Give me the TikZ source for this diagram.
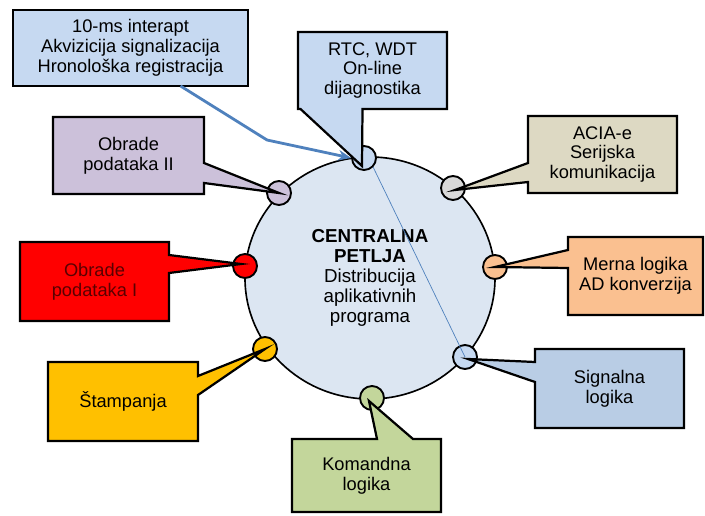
\documentclass[tikz,border=0pt]{standalone}
\usepackage{fontspec}
\setmainfont{Liberation Sans}
\usetikzlibrary{shapes.geometric}
\usetikzlibrary{backgrounds}
\usetikzlibrary{calc}
\usetikzlibrary{arrows.meta}

\definecolor{loopfill}{HTML}{DCE6F2}
\definecolor{rtcfill}{HTML}{C6D9F1}
\definecolor{obrIIfill}{HTML}{CCC1DA}
\definecolor{obrIfill}{HTML}{FF0000}
\definecolor{obrItext}{HTML}{5A0000}
\definecolor{stampfill}{HTML}{FFC000}
\definecolor{komfill}{HTML}{C3D69B}
\definecolor{sigfill}{HTML}{B9CDE5}
\definecolor{mernafill}{HTML}{FAC090}
\definecolor{aciafill}{HTML}{DDD9C3}
\definecolor{aciadot}{HTML}{D9D9D9}
\definecolor{arrowblue}{HTML}{4F81BD}

\begin{document}
\begin{tikzpicture}
      [ x=0.03cm, y=-0.03cm
        , box/.style={rectangle, minimum width=4.47cm, minimum height=2.31cm,
                      inner sep=0pt, outer sep=0pt, align=center,
                      font=\fontsize{15.6}{17}\selectfont}
        , dot/.style={circle, draw, line width=1.6pt, minimum size=0.72cm, inner sep=0pt}
        , callout/.style={draw, line width=1.9pt, line join=miter}
      ]
      \useasboundingbox (0,0) rectangle (705,516);

      % text of the boxes
      \node (tenms) [box, draw, line width=1.9pt, fill=rtcfill, minimum width=7.05cm, minimum height=2.28cm] at (130.5,48) {10-ms interapt\\Akvizicija signalizacija\\Hronološka registracija};
      \node (rtc) [box] at (372.5,70.5) {RTC, WDT\\On-line\\dijagnostika};
      \node (obr2) [box, minimum width=4.53cm] at (128.5,155.5) {Obrade\\podataka II};
      \node (obr1) [box, text=obrItext, minimum height=2.37cm] at (94.5,281.5) {Obrade\\podataka I};
      \node (stamp) [box, minimum width=4.5cm, minimum height=2.37cm] at (123,401.5) {Štampanja};
      \node (koman) [box, minimum height=2.19cm] at (366.5,475.5) {Komandna\\logika};
      \node (sig) [box, minimum height=2.37cm] at (609.5,388.5) {Signalna\\logika};
      \node (merna) [box, minimum width=4.05cm, minimum height=2.34cm] at (635.5,276) {Merna logika\\AD konverzija};
      \node (acia) [box] at (602.5,154.5) {ACIA-e\\Serijska\\komunikacija};

      \begin{scope}[on background layer]
      \node (loop) [ellipse, draw, line width=1.4pt, fill=loopfill, minimum width=7.5cm, minimum height=7.26cm,
                    align=center, font=\fontsize{16}{17}\selectfont] at (370,278)
            {\textbf{CENTRALNA}\\\textbf{PETLJA}\\Distribucija\\aplikativnih\\programa};

      \node (rtcdot) [dot, fill=rtcfill] at (364,158) {};
      \node (aciadot) [dot, fill=aciadot] at (453,188) {};
      \node (mernadot) [dot, fill=mernafill] at (495,267) {};
      \node (sigdot) [dot, fill=rtcfill] at (465,357) {};
      \node (komdot) [dot, fill=komfill] at (372,398) {};
      \node (stampdot) [dot, fill=stampfill] at (265,349) {};
      \node (obr1dot) [dot, fill=obrIfill] at (245,266) {};
      \node (obr2dot) [dot, fill=obrIIfill] at (279,193) {};

      % callouts
      \draw[callout, fill=rtcfill] (rtc.north west) -- (rtc.north east) -- (rtc.south east)
            -- ($(rtc.south)+(-10,0)$) -- ($(rtcdot.center)+(-2,8)$) -- ($(rtc.south)+(-72,0)$) -- (rtc.south west) -- cycle;
      \draw[callout, fill=obrIIfill] (obr2.north west) -- (obr2.north east)
            -- ($(obr2.east)+(0,7.5)$) -- (obr2dot.center) -- ($(obr2.east)+(0,27.5)$)
            -- (obr2.south east) -- (obr2.south west) -- cycle;
      \draw[callout, fill=obrIfill] (obr1.north west) -- (obr1.north east)
            -- ($(obr1.east)+(0,-26.5)$) -- ($(obr1dot.center)+(-4,-2)$) -- ($(obr1.east)+(0,-8.5)$)
            -- (obr1.south east) -- (obr1.south west) -- cycle;
      \draw[callout, fill=stampfill] (stamp.north west) -- (stamp.north east)
            -- ($(stamp.east)+(0,-25.5)$) -- (stampdot.center) -- ($(stamp.east)+(0,-6.5)$)
            -- (stamp.south east) -- (stamp.south west) -- cycle;
      \draw[callout, fill=komfill] (koman.north west)
            -- ($(koman.north)+(10.5,0)$) -- ($(komdot.center)+(-3,3)$) -- ($(koman.north)+(46.5,0)$)
            -- (koman.north east) -- (koman.south east) -- (koman.south west) -- cycle;
      \draw[callout, fill=sigfill] (sig.north west) -- (sig.north east) -- (sig.south east) -- (sig.south west)
            -- ($(sig.west)+(0,-6.5)$) -- ($(sigdot.center)+(3,2)$) -- ($(sig.west)+(0,-26.5)$) -- cycle;
      \draw[callout, fill=mernafill] (merna.north west) -- (merna.north east) -- (merna.south east) -- (merna.south west)
            -- ($(merna.west)+(0,-8)$) -- (mernadot.center) -- ($(merna.west)+(0,-26)$) -- cycle;
      \draw[callout, fill=aciafill] (acia.north west) -- (acia.north east) -- (acia.south east) -- (acia.south west)
            -- ($(acia.west)+(0,27.5)$) -- ($(aciadot.center)+(2,2)$) -- ($(acia.west)+(0,8.5)$) -- cycle;
      \end{scope}

      \coordinate (bend) at (267,140);
      \draw[arrowblue, line width=2.4pt, -{Stealth[length=11pt, width=9pt]}]
            ($(tenms.south)+(50,0)$) -- (bend) -- (rtcdot.west);
      \draw[arrowblue, line width=0.6pt] (rtcdot.south east) -- (sigdot.center);

    \end{tikzpicture}
\end{document}
